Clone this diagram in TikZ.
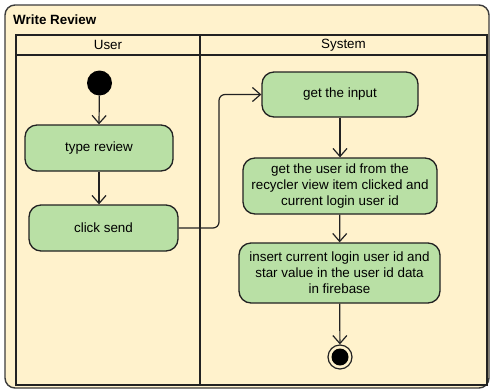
\documentclass[tikz,border=0pt]{standalone}
\usepackage{fontspec}
\setmainfont{Liberation Sans}
\usepackage{xcolor}
\usepackage{tikz}
\usetikzlibrary{arrows.meta}
\definecolor{PoolFill}{RGB}{255, 242, 204}
\definecolor{ActFill}{RGB}{185, 224, 165}
\definecolor{EdgeDark}{RGB}{34, 34, 34}
\definecolor{PoolEdge}{RGB}{60, 60, 60}

\tikzset{
  action/.style={
    draw=EdgeDark,
    fill=ActFill,
    rounded corners=12pt,
    line width=1.3pt,
    align=center,
    inner sep=0pt,
    font=\fontsize{13.4}{16}\selectfont
  },
  flow/.style={
    draw=EdgeDark,
    line width=1.2pt,
    -{Straight Barb[length=8pt,width=14pt,line width=1.2pt]}
  },
  lane/.style={draw=EdgeDark, line width=1.9pt},
  lanetitle/.style={font=\fontsize{13.4}{16}\selectfont, inner sep=0pt}
}

\begin{document}
\begin{tikzpicture}[x=1pt, y=-1pt]
  \useasboundingbox (0,0) rectangle (495,389);

  % pool and swim lanes
  \draw[draw=PoolEdge, fill=PoolFill, line width=1.4pt, rounded corners=10pt]
    (5,5) rectangle (489,388);
  \node[anchor=west, inner sep=0pt, font=\fontsize{13.4}{16}\selectfont\bfseries]
    (pooltitle) at (13,20) {Write Review};
  \draw[lane] (16,35) rectangle (487,385);
  \draw[lane] (16,55) -- (487,55);
  \draw[lane] (200,35) -- (200,385);
  \node[lanetitle] (usertitle) at (108,45) {User};
  \node[lanetitle] (systemtitle) at (343.5,45) {System};

  % user lane
  \node[circle, fill=black, minimum size=25pt, inner sep=0pt] (start) at (99.5,83) {};
  \node[action, minimum width=148pt, minimum height=46pt] (type) at (99,148) {type review};
  \node[action, minimum width=149pt, minimum height=46pt] (send) at (103.5,228) {click send};

  % system lane
  \node[action, minimum width=156pt, minimum height=45pt] (input) at (340,94.5) {get the input};
  \node[action, minimum width=194pt, minimum height=56pt] (userid) at (340,186)
    {get the user id from the\\recycler view item clicked and\\current login user id};
  \node[action, minimum width=201pt, minimum height=60pt] (insert) at (339.5,273)
    {insert current login user id and\\star value in the user id data\\in firebase};
  \node[circle, draw=EdgeDark, line width=1.2pt, minimum size=24pt, inner sep=0pt] (finish) at (340,357) {};
  \fill[black] (finish.center) circle (8.5pt);

  \coordinate (bend) at (219,94.5);

  \draw[flow] (start) -- (type.north |- type.north);
  \draw[flow] (type.south) -- (type.south |- send.north);
  \draw[flow, rounded corners=6pt] (send.east) -| (bend) -- (input.west);
  \draw[flow] (input) -- (userid);
  \draw[flow] (userid) -- (insert);
  \draw[flow] (insert) -- (finish);
\end{tikzpicture}
\end{document}
